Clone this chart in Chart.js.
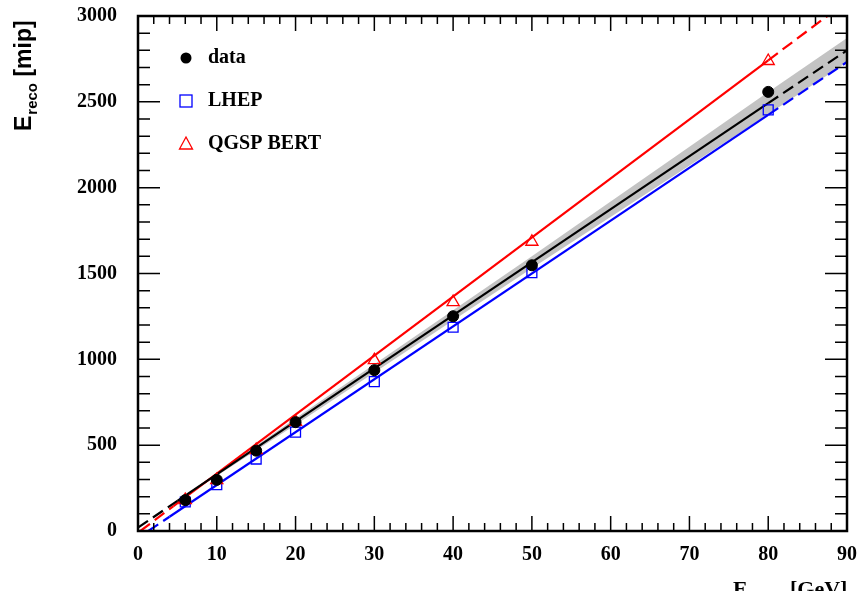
<!DOCTYPE html>
<html>
<head>
<meta charset="utf-8">
<script src="https://cdn.jsdelivr.net/npm/chart.js@4.4.0/dist/chart.umd.min.js"></script>
<style>
  body { margin: 0; background: #fff; }
  #wrap { position: relative; width: 857px; height: 591px; overflow: hidden; }
</style>
</head>
<body>
<div id="wrap"><canvas id="linChart" width="857" height="591"></canvas></div>
<script>
// beam energies and measured / simulated responses
const beamE = [6, 10, 15, 20, 30, 40, 50, 80];
const dataE = [180, 298, 468, 634, 937, 1251, 1548, 2558];
const lhepE = [169, 270, 419, 576, 870, 1187, 1505, 2453];
const qgspE = [180, 297, 471, 636, 995, 1333, 1685, 2738];

// fit lines (x, y)
const dataFitX = [0, 5, 80, 90];
const dataFitY = [20, 175, 2492, 2800];
const lhepFitX = [1.3, 4, 80, 90];
const lhepFitY = [0, 83, 2424, 2732];
const qgspFitX = [0.3, 4.5, 80, 87.5];
const qgspFitY = [0, 145, 2742, 3000];

// error band around the data fit
const bandX = [5, 20, 50, 80, 90];
const bandHi = [178, 657, 1600, 2558, 2872];
const bandLo = [172, 619, 1530, 2428, 2730];

const xTicks = [0, 10, 20, 30, 40, 50, 60, 70, 80, 90];
const yTicks = [0, 500, 1000, 1500, 2000, 2500, 3000];

const pts = (xs, ys) => xs.map((x, i) => ({ x: x, y: ys[i] }));
const serif = '"Liberation Serif", "Times New Roman", serif';

// dashed outside the measured range, solid inside
const edgeDash = (n) => ({
  borderDash: ctx => (ctx.p0DataIndex === 0 || ctx.p1DataIndex === n - 1) ? [12, 6] : undefined
});

function fitLine(xs, ys, color) {
  return {
    type: 'line', data: pts(xs, ys), borderColor: color, borderWidth: 2.2,
    pointRadius: 0, fill: false, tension: 0, segment: edgeDash(xs.length)
  };
}

// inside ticks, frame and text (ROOT-like)
const frameTicks = {
  id: 'frameTicks',
  afterDatasetsDraw(chart) {
    const { ctx, chartArea: a, scales: { x, y } } = chart;
    ctx.save();
    ctx.strokeStyle = '#000';
    ctx.lineWidth = 1.5;
    ctx.beginPath();
    for (let v = 0; v <= 90; v += 2) {
      const px = x.getPixelForValue(v);
      const len = v % 10 === 0 ? 15 : 8;
      ctx.moveTo(px, a.bottom); ctx.lineTo(px, a.bottom - len);
      ctx.moveTo(px, a.top); ctx.lineTo(px, a.top + len);
    }
    for (let v = 0; v <= 3000; v += 100) {
      const py = y.getPixelForValue(v);
      const len = v % 500 === 0 ? 22 : 12;
      ctx.moveTo(a.left, py); ctx.lineTo(a.left + len, py);
      ctx.moveTo(a.right, py); ctx.lineTo(a.right - len, py);
    }
    ctx.stroke();
    ctx.lineWidth = 2.5;
    ctx.strokeRect(a.left, a.top, a.right - a.left, a.bottom - a.top);

    // y title: E_reco [mip]
    ctx.fillStyle = '#000';
    ctx.translate(31, 131);
    ctx.rotate(-Math.PI / 2);
    ctx.textBaseline = 'alphabetic';
    ctx.textAlign = 'left';
    ctx.font = 'bold 23px "Liberation Sans", Arial, sans-serif';
    ctx.fillText('E', 0, 0);
    let w = ctx.measureText('E').width;
    ctx.font = 'bold 15px "Liberation Sans", Arial, sans-serif';
    ctx.fillText('reco', w + 1, 6);
    w += ctx.measureText('reco').width + 1;
    ctx.font = 'bold 23px "Liberation Sans", Arial, sans-serif';
    ctx.fillText(' [mip]', w, 0);
    ctx.restore();

    // x title, cut by the bottom edge
    ctx.save();
    ctx.fillStyle = '#000';
    ctx.textBaseline = 'alphabetic';
    ctx.font = 'bold 22px ' + serif;
    ctx.fillText('E', 733, 596);
    ctx.font = 'bold 15px ' + serif;
    ctx.fillText('beam', 750, 602);
    ctx.font = 'bold 22px ' + serif;
    ctx.fillText('[GeV]', 790, 596);

    // legend
    ctx.font = 'bold 20px ' + serif;
    ctx.textBaseline = 'middle';
    ctx.fillText('data', 208, 58);
    ctx.fillText('LHEP', 208, 101);
    ctx.fillText('QGSP BERT', 208, 144);
    ctx.beginPath();
    ctx.arc(186, 58, 5.5, 0, Math.PI * 2);
    ctx.fill();
    ctx.lineWidth = 1.3;
    ctx.strokeStyle = '#0000ff';
    ctx.strokeRect(180, 95, 12, 12);
    ctx.strokeStyle = '#ff0000';
    ctx.beginPath();
    ctx.moveTo(186, 137); ctx.lineTo(192.5, 149); ctx.lineTo(179.5, 149); ctx.closePath();
    ctx.stroke();
    ctx.restore();
  }
};

new Chart(document.getElementById('linChart'), {
  type: 'scatter',
  data: {
    datasets: [
      { type: 'line', data: pts(bandX, bandLo), borderWidth: 0, pointRadius: 0, fill: false, order: 10 },
      { type: 'line', data: pts(bandX, bandHi), borderWidth: 0, pointRadius: 0,
        fill: '-1', backgroundColor: 'rgba(185,185,185,0.85)', order: 9 },
      Object.assign(fitLine(qgspFitX, qgspFitY, '#ff0000'), { order: 6 }),
      Object.assign(fitLine(lhepFitX, lhepFitY, '#0000ff'), { order: 7 }),
      Object.assign(fitLine(dataFitX, dataFitY, '#000000'), { order: 5 }),
      { label: 'LHEP', data: pts(beamE, lhepE), pointStyle: 'rect', pointRadius: 7,
        borderColor: '#0000ff', backgroundColor: 'rgba(0,0,0,0)', pointBorderWidth: 1.3, order: 3 },
      { label: 'QGSP BERT', data: pts(beamE, qgspE), pointStyle: 'triangle', pointRadius: 7,
        borderColor: '#ff0000', backgroundColor: 'rgba(0,0,0,0)', pointBorderWidth: 1.3, order: 2 },
      { label: 'data', data: pts(beamE, dataE), pointStyle: 'circle', pointRadius: 5.5,
        borderColor: '#000', backgroundColor: '#000', order: 1 }
    ]
  },
  options: {
    responsive: false,
    animation: false,
    layout: { padding: { top: 16, right: 10, left: 0, bottom: 0 } },
    plugins: { legend: { display: false }, tooltip: { enabled: false } },
    scales: {
      x: {
        type: 'linear', min: 0, max: 90,
        afterFit: s => { s.height = 60; s.paddingLeft = 0; s.paddingRight = 0; },
        afterBuildTicks: s => { s.ticks = xTicks.map(v => ({ value: v })); },
        grid: { display: false, drawTicks: false },
        border: { display: false },
        ticks: { padding: 12, color: '#000', maxRotation: 0, callback: v => String(v),
                 font: { family: serif, size: 20, weight: 'bold' } }
      },
      y: {
        type: 'linear', min: 0, max: 3000,
        afterFit: s => { s.width = 138; s.paddingTop = 0; s.paddingBottom = 0; },
        afterBuildTicks: s => { s.ticks = yTicks.map(v => ({ value: v })); },
        grid: { display: false, drawTicks: false },
        border: { display: false },
        ticks: { padding: 21, color: '#000', callback: v => String(v),
                 font: { family: serif, size: 20, weight: 'bold' } }
      }
    }
  },
  plugins: [frameTicks]
});
</script>
</body>
</html>
